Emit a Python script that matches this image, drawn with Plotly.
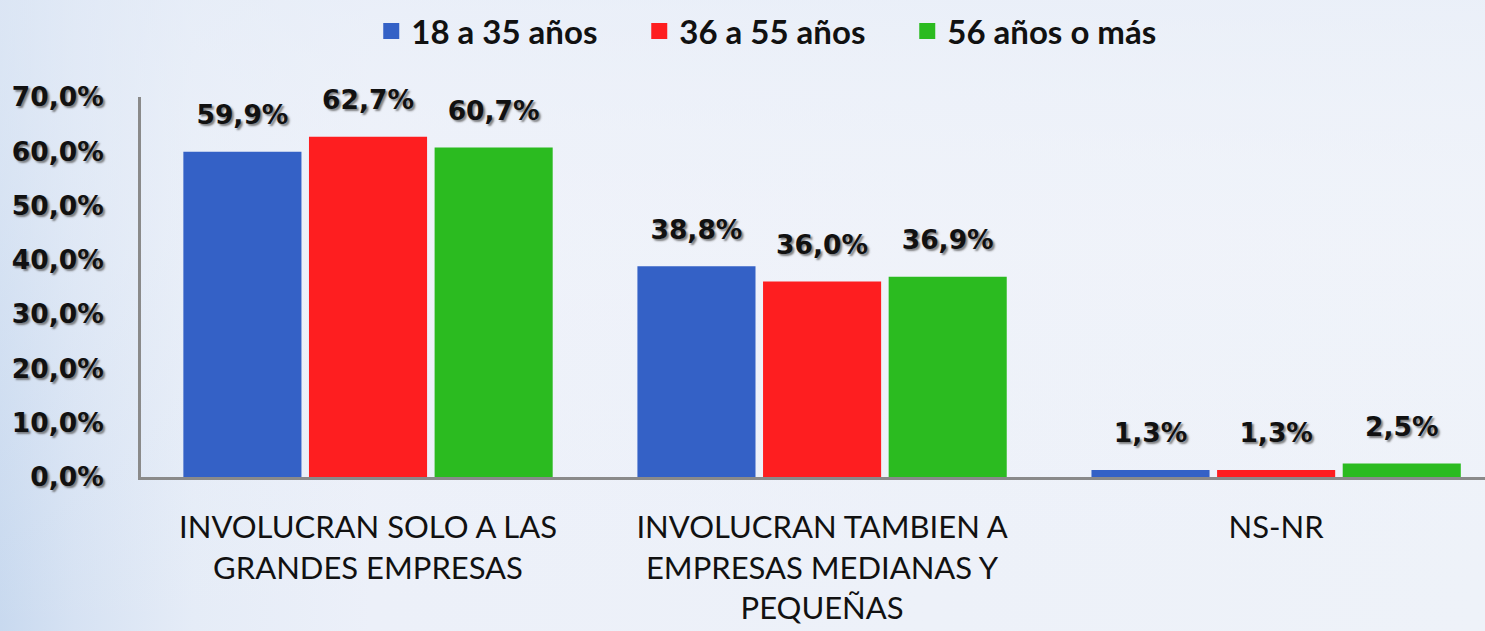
import base64
import plotly.graph_objects as go

categories = ["INVOLUCRAN SOLO A LAS<br>GRANDES EMPRESAS",
              "INVOLUCRAN TAMBIEN A<br>EMPRESAS MEDIANAS Y<br>PEQUEÑAS",
              "NS-NR"]
series_names = ["18 a 35 años", "36 a 55 años", "56 años o más"]
values_18_35 = [59.9, 38.8, 1.3]
values_36_55 = [62.7, 36.0, 1.3]
values_56 = [60.7, 36.9, 2.5]
colors = ["#3461c6", "#fe1e20", "#2bbb20"]
tick_vals = [0, 10, 20, 30, 40, 50, 60, 70]
tick_text = ["0,0%", "10,0%", "20,0%", "30,0%", "40,0%", "50,0%", "60,0%", "70,0%"]

W, H = 1485, 631
ML, MR, MT, MB = 141, 0, 97, 154
PW, PH = W - ML - MR, H - MT - MB

bold_font = "DejaVu Sans"
text_font = "Lato"
shadow = "2px 2px 2px rgba(90,90,90,0.75)"
GAP = 0.17

fig = go.Figure()
for i, (name, vals, col) in enumerate(zip(series_names, [values_18_35, values_36_55, values_56], colors)):
    fig.add_trace(go.Bar(
        x=categories, y=vals, name=name, offsetgroup=str(i),
        marker=dict(color=col, line=dict(width=0)), showlegend=False, hoverinfo="skip",
    ))
    # value labels
    fig.add_trace(go.Scatter(
        x=categories, y=vals, mode="markers+text", offsetgroup=str(i),
        text=[f"{v:.1f}".replace(".", ",") + "%" for v in vals],
        textposition="top center", cliponaxis=False, showlegend=False,
        marker=dict(size=32, color="rgba(0,0,0,0)"), hoverinfo="skip",
        textfont=dict(family=bold_font, size=26.5, color="#111111", weight="bold", shadow=shadow),
    ))
    # legend entry
    fig.add_trace(go.Scatter(
        x=[categories[0]], y=[None], mode="markers", name=name,
        marker=dict(symbol="square", size=22, color=col), showlegend=True,
    ))

svg = (
    f'<svg xmlns="http://www.w3.org/2000/svg" width="{W}" height="{H}" preserveAspectRatio="none">'
    '<defs><linearGradient id="g" x1="0" y1="0" x2="1" y2="0">'
    '<stop offset="0" stop-color="#c8d9ef"/>'
    '<stop offset="0.05" stop-color="#d6e2f3"/>'
    '<stop offset="0.13" stop-color="#e5ecf7"/>'
    '<stop offset="0.25" stop-color="#ecf0f9"/>'
    '<stop offset="1" stop-color="#eef2f9"/>'
    '</linearGradient>'
    '<linearGradient id="v" x1="0" y1="0" x2="0" y2="1">'
    '<stop offset="0" stop-color="#e8eef8" stop-opacity="0.6"/>'
    '<stop offset="0.4" stop-color="#f4f6fb" stop-opacity="0.3"/>'
    '<stop offset="1" stop-color="#eef2f9" stop-opacity="0"/>'
    '</linearGradient></defs>'
    f'<rect width="{W}" height="{H}" fill="url(#g)"/>'
    f'<rect width="{W}" height="{H}" fill="url(#v)"/>'
    '</svg>'
)
bg_src = "data:image/svg+xml;base64," + base64.b64encode(svg.encode()).decode()

fig.update_layout(
    width=W, height=H,
    margin=dict(l=ML, r=MR, t=MT, b=MB),
    paper_bgcolor="#eef2f9", plot_bgcolor="rgba(0,0,0,0)",
    barmode="group", bargap=GAP, bargroupgap=0.06,
    scattermode="group", scattergap=GAP,
    font=dict(family=text_font, color="#111111"),
    legend=dict(orientation="h", x=0.25, xanchor="left", xref="container",
                y=0.995, yref="container", yanchor="top",
                font=dict(size=33, family=text_font, weight="bold"),
                entrywidth=223, entrywidthmode="pixels", itemsizing="trace",
                bgcolor="rgba(0,0,0,0)"),
    images=[dict(source=bg_src, xref="paper", yref="paper",
                 x=-ML / PW, y=1 + MT / PH, sizex=W / PW, sizey=H / PH,
                 xanchor="left", yanchor="top", sizing="stretch", layer="below")],
    showlegend=True,
    hovermode=False,
)
fig.update_xaxes(range=[-0.5, 2.46], showline=True, linecolor="#8a8a8a", linewidth=3,
                 tickfont=dict(size=31, family=text_font),
                 ticks="", showgrid=False, ticklabelstandoff=21)
fig.update_yaxes(range=[0, 70], tickmode="array", tickvals=tick_vals, ticktext=tick_text,
                 showline=True, linecolor="#8a8a8a", linewidth=3, showgrid=False,
                 zeroline=False, ticks="", ticklabelstandoff=29,
                 tickfont=dict(size=26.5, family=bold_font, weight="bold", shadow=shadow))

fig.write_html("out.html", config={"displayModeBar": False},
               post_script="document.body.style.margin='0';document.body.style.overflow='hidden';")
